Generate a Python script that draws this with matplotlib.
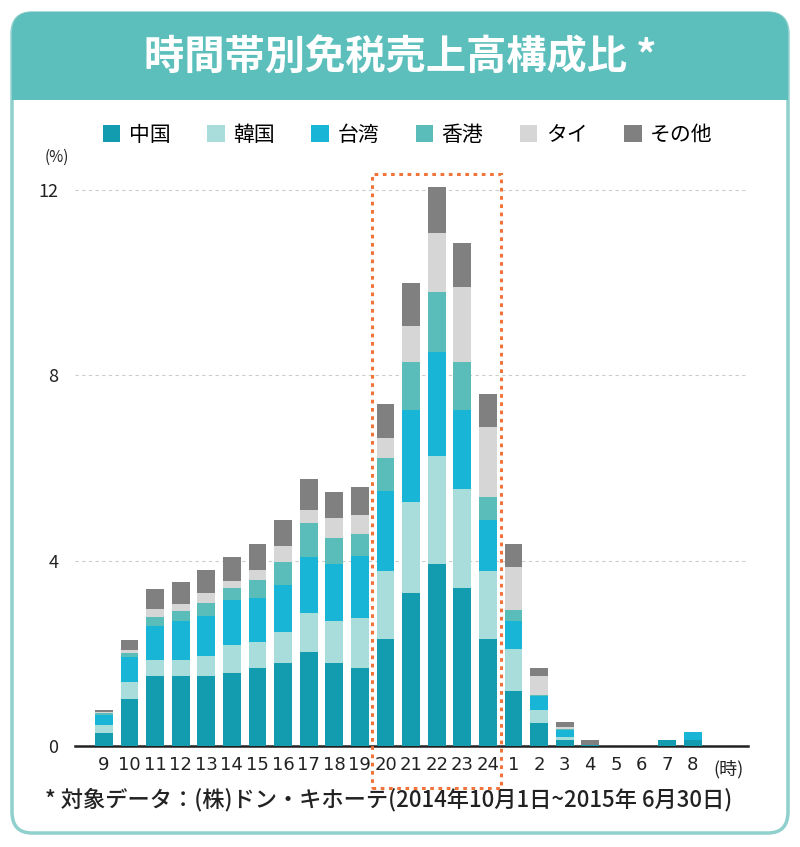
import numpy as np
import matplotlib.pyplot as plt
from matplotlib.patches import FancyBboxPatch, Rectangle

plt.rcParams['font.family'] = ['Noto Sans CJK JP', 'DejaVu Sans']

# hours 9..24 then 1..8
hours = ["9", "10", "11", "12", "13", "14", "15", "16", "17", "18", "19", "20",
         "21", "22", "23", "24", "1", "2", "3", "4", "5", "6", "7", "8"]

china = [0.29, 1.01, 1.51, 1.51, 1.51, 1.57, 1.68, 1.80, 2.02, 1.79, 1.69, 2.30,
         3.31, 3.92, 3.42, 2.30, 1.18, 0.50, 0.13, 0.03, 0, 0, 0.13, 0.13]
korea = [0.16, 0.38, 0.35, 0.35, 0.44, 0.61, 0.57, 0.67, 0.85, 0.90, 1.07, 1.47,
         1.95, 2.35, 2.12, 1.47, 0.91, 0.28, 0.07, 0, 0, 0, 0, 0]
taiwan = [0.22, 0.53, 0.72, 0.83, 0.85, 0.97, 0.95, 1.01, 1.22, 1.24, 1.34, 1.73,
          2.00, 2.23, 1.72, 1.11, 0.61, 0.29, 0.15, 0, 0, 0, 0, 0.17]
hongkong = [0.04, 0.08, 0.21, 0.22, 0.28, 0.26, 0.38, 0.50, 0.72, 0.55, 0.48, 0.71,
            1.03, 1.30, 1.03, 0.50, 0.23, 0.03, 0.02, 0, 0, 0, 0, 0]
thai = [0.02, 0.07, 0.16, 0.16, 0.22, 0.16, 0.22, 0.34, 0.29, 0.44, 0.41, 0.45,
        0.78, 1.28, 1.61, 1.51, 0.94, 0.41, 0.03, 0, 0, 0, 0, 0]
other = [0.05, 0.22, 0.45, 0.46, 0.50, 0.52, 0.56, 0.55, 0.66, 0.57, 0.61, 0.73,
         0.93, 0.99, 0.96, 0.72, 0.49, 0.18, 0.11, 0.10, 0, 0, 0, 0]

series = [("中国", china, "#139bb0"),
          ("韓国", korea, "#a9dddc"),
          ("台湾", taiwan, "#19b5d6"),
          ("香港", hongkong, "#5bbdb9"),
          ("タイ", thai, "#d6d6d6"),
          ("その他", other, "#808080")]

teal = "#5dbfbc"

fig = plt.figure(figsize=(8, 8.47), dpi=100)

# outer rounded box + header band
W, H = 800, 847
box = FancyBboxPatch((12 / W, 14 / H), 776 / W, 820 / H,
                     boxstyle="round,pad=0,rounding_size=0.025",
                     transform=fig.transFigure, facecolor="white",
                     edgecolor="#8fd0cd", linewidth=2.5, zorder=0)
fig.patches.append(box)
header = FancyBboxPatch((12 / W, (H - 100) / H), 776 / W, 88 / H,
                        boxstyle="round,pad=0,rounding_size=0.025",
                        transform=fig.transFigure, facecolor=teal,
                        edgecolor="none", zorder=1)
fig.patches.append(header)
fig.patches.append(Rectangle((12 / W, (H - 100) / H), 776 / W, 30 / H,
                             transform=fig.transFigure, facecolor=teal,
                             edgecolor="none", zorder=1))
fig.text(0.5, (H - 57) / H, "時間帯別免税売上高構成比 *", color="white",
         fontsize=29, fontweight="bold", ha="center", va="center", zorder=2)

ax = fig.add_axes([75 / W, 101 / H, 673 / W, 579 / H])
ax.set_zorder(5)
ax.patch.set_alpha(0)
x = np.arange(len(hours))
bottom = np.zeros(len(hours))
for name, vals, col in series:
    ax.bar(x, vals, 0.7, bottom=bottom, color=col, label=name, zorder=3)
    bottom += np.array(vals)

ax.set_xlim(-1.13, 25.16)
ax.set_ylim(0, 12.5)
ax.set_yticks([0, 4, 8, 12])
ax.yaxis.grid(True, linestyle=(0, (3, 3)), color="#cccccc", linewidth=0.8)
ax.set_axisbelow(True)
for s in ["top", "right", "left"]:
    ax.spines[s].set_visible(False)
ax.spines["bottom"].set_color("#222222")
ax.spines["bottom"].set_linewidth(1.8)
ax.tick_params(axis="y", length=0, labelsize=13, pad=12, colors="#222222")
ax.tick_params(axis="x", length=0, labelsize=13, pad=7, colors="#222222")
ax.set_xticks(x)
ax.set_xticklabels(hours, family=["Liberation Sans Narrow", "DejaVu Sans"])
ax.text(24.4, -0.5, "(時)", ha="center", va="center", fontsize=13,
        color="#222222", transform=ax.transData, clip_on=False)
ax.text(-1.85, 12.7, "(%)", ha="center", va="center", fontsize=11,
        color="#222222", clip_on=False)

# dotted highlight around 20-24
ax.add_patch(Rectangle((10.47, -0.9), 5.03, 13.25, fill=False,
                       edgecolor="#f0733a", linestyle=(0, (1.2, 1.5)),
                       linewidth=2.2, clip_on=False, zorder=4))

ax.legend(ncol=6, loc="center left", bbox_to_anchor=(84 / W, (H - 135) / H),
          bbox_transform=fig.transFigure, frameon=False, fontsize=15,
          handlelength=0.85, handleheight=0.85, handletextpad=0.4,
          columnspacing=1.75)

fig.text(45 / W, (H - 800) / H,
         "* 対象データ：(株)ドン・キホーテ(2014年10月1日~2015年 6月30日)",
         fontsize=16, color="#222222", ha="left", va="center",
         fontweight="medium")

fig.savefig("out.png", dpi=100)
